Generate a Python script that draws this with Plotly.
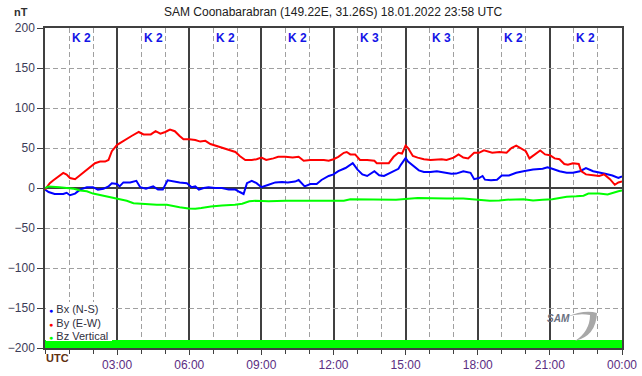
import plotly.graph_objects as go

# ---- data (hours UTC, nT) ----
bx_hours = [0, 0.15, 0.4, 0.76, 0.9, 1.04, 1.25, 1.46, 1.74, 2.0, 2.2, 2.43, 2.64, 2.78, 3.0, 3.1, 3.26, 3.54, 3.8, 3.96,
            4.2, 4.5, 4.7, 4.9, 5.1, 5.35, 5.6, 5.9, 6.0, 6.1, 6.25, 6.4, 6.6, 6.8, 7.08, 7.36, 7.64, 7.92, 8.1, 8.26,
            8.4, 8.6, 8.8, 9.0, 9.3, 9.58, 9.86, 10.1, 10.4, 10.55, 10.8, 11.04, 11.3, 11.5, 11.8, 12.0, 12.2, 12.5, 12.8, 13.0,
            13.2, 13.4, 13.7, 13.9, 14.1, 14.4, 14.7, 14.8, 15.0, 15.1, 15.35, 15.55, 15.76, 16.04, 16.3, 16.6, 16.9, 17.1, 17.4, 17.7,
            17.85, 18.05, 18.2, 18.3, 18.55, 18.8, 19.0, 19.3, 19.6, 19.9, 20.3, 20.7, 20.9, 21.1, 21.4, 21.7, 21.96, 22.25, 22.5, 22.8,
            23.05, 23.3, 23.6, 23.85, 24.0]
bx_nt = [-2, -5, -7.5, -7.5, -6, -9, -7, -2, 1, 1, -2, -1, 2, 6, 5, 2, 7, 7, 9, 1,
         -1, 2, -2, -2, 9.6, 8, 7, 6, 4, 1, 2, -2, 0, 1, 0, 0, -2, -2, -5, -7.5,
         6, 9, 6, 1, 4, 7, 7.5, 7, 8, 10, 2, 5, 5, 10, 15, 17, 21, 25, 31, 23,
         17, 15, 21, 16, 15, 19, 24, 29, 37.5, 33, 27, 22, 20, 20, 21, 19, 17.7, 18, 21, 19,
         11, 12.5, 15, 10.4, 9.6, 10.4, 15.6, 15.6, 19, 21, 23, 24, 26, 24, 21, 19, 19, 21, 25, 21,
         19, 17.7, 15.6, 12.5, 14.6]

by_hours = [0, 0.2, 0.35, 0.55, 0.76, 0.9, 1.04, 1.25, 1.46, 1.67, 1.88, 2.08, 2.29, 2.5, 2.64, 2.78, 3.0, 3.2, 3.4, 3.6,
            3.9, 4.1, 4.4, 4.6, 4.8, 5.0, 5.2, 5.4, 5.6, 5.76, 6.0, 6.25, 6.46, 6.67, 6.88, 7.08, 7.36, 7.64, 7.92, 8.1,
            8.33, 8.6, 8.8, 9.0, 9.2, 9.5, 9.7, 10.0, 10.3, 10.55, 10.76, 11.04, 11.3, 11.6, 11.8, 12.0, 12.2, 12.43, 12.55, 12.7,
            12.9, 13.1, 13.4, 13.7, 13.8, 14.1, 14.3, 14.5, 14.7, 14.85, 15.0, 15.1, 15.3, 15.5, 15.76, 16.04, 16.5, 16.7, 17.0, 17.2,
            17.4, 17.6, 17.85, 18.05, 18.26, 18.6, 18.9, 19.2, 19.4, 19.6, 19.8, 20.0, 20.15, 20.4, 20.6, 20.8, 21.0, 21.2, 21.4, 21.6,
            21.75, 21.96, 22.2, 22.3, 22.5, 22.8, 23.05, 23.26, 23.5, 23.7, 23.85, 24.0]
by_nt = [-2, 6, 9.6, 14.6, 18.8, 16.7, 12.5, 11, 16, 21, 27, 31, 33, 33, 35, 46, 54, 58, 61, 65,
         70, 67, 67, 71, 68, 70, 73, 71, 65, 61, 61, 60, 58, 59, 55, 53, 51, 48, 45, 40,
         35, 35, 36, 38, 35, 37, 39, 39, 38, 39, 34, 35, 35, 35, 34, 36, 39, 44, 45, 42,
         42, 35, 35, 34, 31, 31, 31, 39, 44, 43, 53, 50, 40, 38, 36, 35, 36, 35, 38, 42,
         38, 37, 44, 44, 47, 44, 45, 44, 50, 53, 50, 46, 37, 42, 47, 42, 41, 37, 36, 30,
         29, 31, 30, 21, 17, 16, 15, 17, 11, 4, 7, 8]

bz_hours = [0, 0.15, 0.6, 0.9, 1.2, 1.46, 1.74, 2.0, 2.29, 2.57, 2.85, 3.1, 3.4, 3.68, 3.96, 4.4, 4.65, 5.07, 5.35, 5.6,
            5.97, 6.25, 6.5, 6.9, 7.36, 7.64, 7.9, 8.2, 8.5, 8.75, 9.3, 10.0, 10.7, 11.4, 12.0, 12.43, 12.7, 13.9, 14.6, 15.5,
            16.04, 16.7, 17.4, 18.0, 18.26, 18.5, 18.9, 19.2, 19.9, 20.3, 20.7, 21.1, 21.4, 21.7, 22.1, 22.4, 22.6, 23.05, 23.4, 23.6,
            23.85, 24.0]
bz_nt = [0, 2, 1, 0, -1, -3, -4, -7, -9, -10, -12.5, -14.6, -16, -19, -19.6, -20, -21, -21, -23, -24,
         -25.6, -26, -25, -23, -22, -21.6, -21, -19.6, -16.7, -16, -16.7, -16, -16, -16, -15.6, -16, -14, -14, -14.6, -12.5,
         -13, -13, -13, -14.6, -16, -16, -15.6, -14.6, -14, -15.6, -14.6, -14, -12.5, -11, -10.4, -9.6, -7, -7, -8, -6,
         -4, -3]

k_index = [2, 2, 2, 2, 3, 3, 2, 2]
tick_hours = [0, 3, 6, 9, 12, 15, 18, 21, 24]
tick_labels = ["", "03:00", "06:00", "09:00", "12:00", "15:00", "18:00", "21:00", "00:00"]
y_ticks = [-200, -150, -100, -50, 0, 50, 100, 150, 200]

series = [
    ("Bx (N-S)", bx_hours, bx_nt, "#0000ff"),
    ("By (E-W)", by_hours, by_nt, "#ff0000"),
    ("Bz Vertical", bz_hours, bz_nt, "#00ff00"),
]

FONT = "Liberation Sans, Arial, sans-serif"
DARK = "#404040"
GRID = "#a0a0a0"

L, R, T, B = 45, 20, 28, 28
PW, PH = 642 - L - R, 376 - T - B


def px(xp):
    return (xp - L) / PW


def py_(yp):
    return (376 - B - yp) / PH


fig = go.Figure()
for name, hx, vals, col in series:
    fig.add_trace(go.Scatter(x=hx, y=vals, mode="lines", name=name,
                             line=dict(color=col, width=2), showlegend=False, hoverinfo="skip"))

fig.update_layout(
    width=642, height=376,
    margin=dict(l=L, r=R, t=T, b=B, autoexpand=False),
    paper_bgcolor="white", plot_bgcolor="white",
    font=dict(family=FONT, size=12, color="#303030"),
    showlegend=False,
)

fig.update_xaxes(
    range=[0, 24], tickmode="array", tickvals=tick_hours, ticktext=tick_labels,
    automargin=False,
    showline=True, mirror=True, linecolor=DARK, linewidth=1.5,
    ticks="outside", ticklen=5, tickcolor=DARK, tickwidth=1,
    showgrid=True, gridcolor=DARK, gridwidth=1.5, zeroline=False,
    tickfont=dict(color="#5a2d82", size=12, family=FONT),
    minor=dict(tickmode="array", tickvals=list(range(0, 25)), ticks="outside", ticklen=4,
               tickcolor=DARK, showgrid=True, gridcolor=GRID, gridwidth=1, griddash="5px,3px"),
)
fig.update_yaxes(
    range=[-200, 200], tickmode="array", tickvals=y_ticks,
    automargin=False,
    showline=True, mirror=True, linecolor=DARK, linewidth=1.5,
    ticks="outside", ticklen=6, tickcolor=DARK,
    showgrid=True, gridcolor=GRID, gridwidth=1, griddash="5px,3px",
    zeroline=True, zerolinecolor=DARK, zerolinewidth=1.5,
    tickfont=dict(color="#3c3c58", size=12, family=FONT),
)

# green data-coverage bar at the bottom
fig.add_shape(type="rect", xref="x", yref="y", x0=0, x1=24, y0=-200, y1=-190,
              fillcolor="#00ff00", line=dict(width=0), layer="above")

# white legend backdrop (hides the dashed grid behind the legend)
fig.add_shape(type="rect", xref="paper", yref="paper", x0=px(46), x1=px(112), y0=py_(341), y1=py_(302),
              fillcolor="white", line=dict(width=0), layer="above")

# K indices
for i, k in enumerate(k_index):
    fig.add_annotation(x=3 * i + 1.5, y=1, xref="x", yref="paper", yanchor="top", yshift=-1,
                       text=f"<b>K {k}</b>", showarrow=False,
                       font=dict(color="#1414e6", size=12, family=FONT))

# title and unit
fig.add_annotation(x=px(333), y=py_(12), xref="paper", yref="paper", yanchor="middle",
                   text="SAM Coonabarabran (149.22E, 31.26S) 18.01.2022 23:58 UTC",
                   showarrow=False, font=dict(size=12, color="#202020", family=FONT))
fig.add_annotation(x=px(21), y=py_(12), xref="paper", yref="paper",
                   text="<b>nT</b>", showarrow=False, xanchor="center", yanchor="middle",
                   font=dict(size=11, color="#303030", family=FONT))

# UTC label
fig.add_annotation(x=px(44), y=py_(358), xref="paper", yref="paper", xanchor="left", yanchor="middle",
                   text="<b>UTC</b>", showarrow=False,
                   font=dict(size=11, color="#603010", family=FONT))

# legend (manual)
for i, (name, _, _, col) in enumerate(series):
    yy = 309 + 13.5 * i
    fig.add_annotation(x=px(47), y=py_(yy), xref="paper", yref="paper",
                       xanchor="left", yanchor="middle", showarrow=False,
                       text=f"<span style='color:{col};font-size:7px'>●</span> {name}",
                       font=dict(size=11, color="#303040", family=FONT))

# SAM logo
fig.add_shape(type="path", xref="paper", yref="paper",
              path=(f"M {px(566)} {py_(317)} Q {px(585)} {py_(309)} {px(597)} {py_(313)} "
                    f"Q {px(596)} {py_(336)} {px(575)} {py_(341)} "
                    f"Q {px(590)} {py_(331)} {px(590)} {py_(315)} Q {px(578)} {py_(313)} {px(566)} {py_(317)} Z"),
              fillcolor="#a8a8a8", line=dict(width=0))
fig.add_annotation(x=px(572), y=py_(326), xref="paper", yref="paper", showarrow=False,
                   text="<i><b>SAM</b></i>", font=dict(size=10, color="#6a7080", family=FONT))

fig.write_html("out.html", config={"displayModeBar": False},
               post_script="document.body.style.margin='0';document.body.style.overflow='hidden';")
